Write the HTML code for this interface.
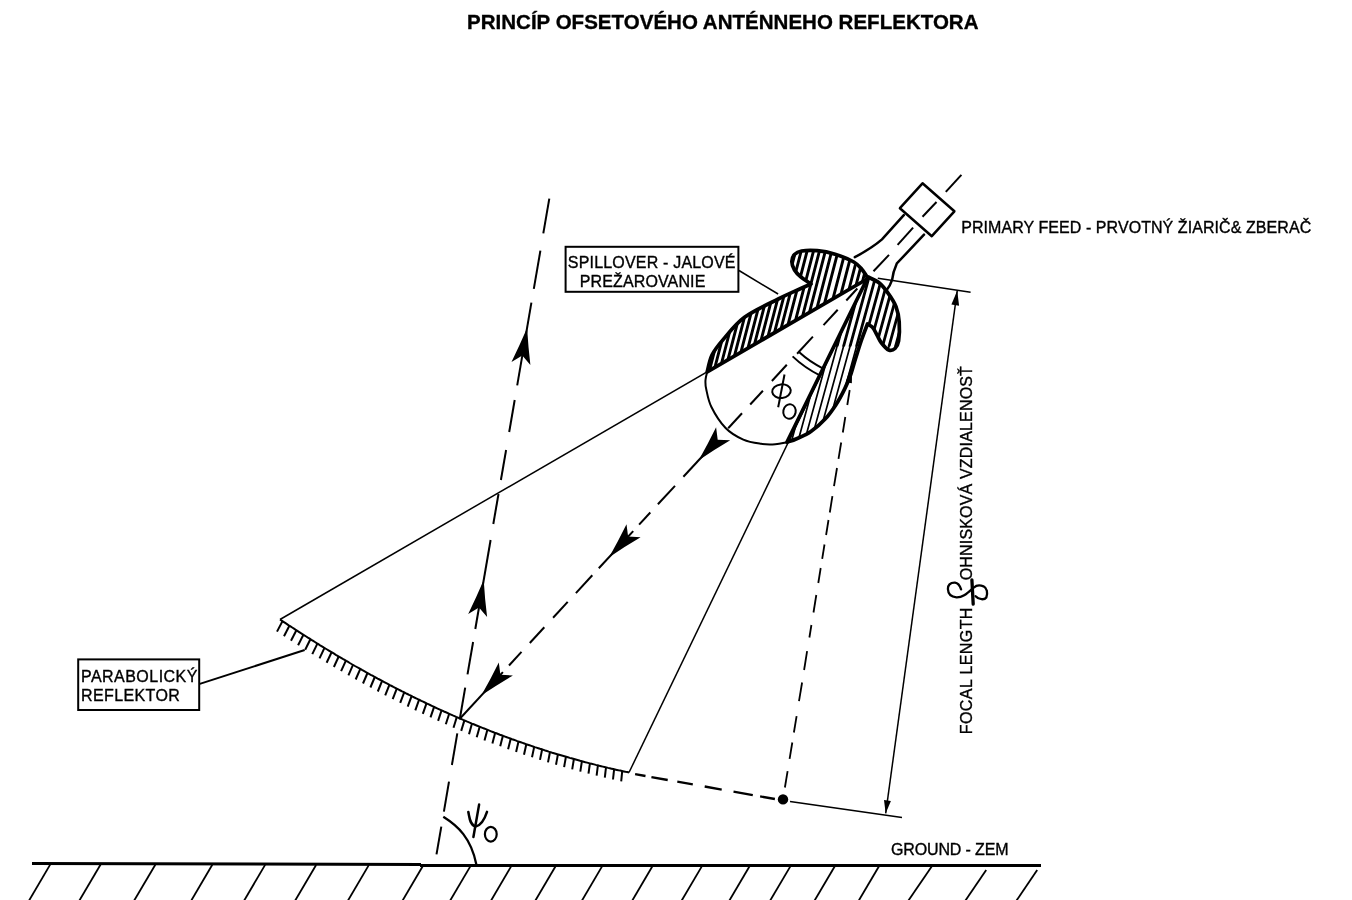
<!DOCTYPE html>
<html><head><meta charset="utf-8"><title>Princíp ofsetového anténneho reflektora</title>
<style>
html,body{margin:0;padding:0;background:#fff}
svg{display:block;will-change:transform}
.t{stroke:#000;stroke-width:1.5;fill:none}
.m{stroke:#000;stroke-width:2}
.m2{stroke:#000;stroke-width:2.3}
.t2{stroke:#000;stroke-width:1.8}
.tk{stroke:#000;stroke-width:2}
.k{stroke:#000;stroke-width:3.7;stroke-linejoin:round}
.k2{stroke:#000;stroke-width:2.5;stroke-linecap:round}
.ah{fill:#000;stroke:none}
</style></head>
<body>
<svg width="1352" height="900" viewBox="0 0 1352 900">
<defs>
<pattern id="hatch" patternUnits="userSpaceOnUse" width="6.5" height="40" patternTransform="rotate(14.5) translate(2,0)">
<rect x="0" y="0" width="2.9" height="40" fill="#000"/></pattern>
</defs>
<rect width="1352" height="900" fill="#fff"/>
<path d="M32,863.4 L421,864.4 M420,865.5 L1041,865.6" stroke="#000" stroke-width="3" fill="none"/>
<line x1="50.3" y1="864.4" x2="28.8" y2="901" class="t2"/>
<line x1="100.6" y1="864.5" x2="79.1" y2="901" class="t2"/>
<line x1="155.3" y1="864.7" x2="133.9" y2="901" class="t2"/>
<line x1="212.3" y1="864.8" x2="191.0" y2="901" class="t2"/>
<line x1="265.1" y1="864.9" x2="243.9" y2="901" class="t2"/>
<line x1="316.1" y1="865.0" x2="294.9" y2="901" class="t2"/>
<line x1="368.8" y1="865.1" x2="347.7" y2="901" class="t2"/>
<line x1="423.3" y1="865.3" x2="402.3" y2="901" class="t2"/>
<line x1="470.9" y1="865.4" x2="449.9" y2="901" class="t2"/>
<line x1="511.7" y1="865.4" x2="490.8" y2="901" class="t2"/>
<line x1="556" y1="865.5" x2="535.1" y2="901" class="t2"/>
<line x1="602.5" y1="865.6" x2="581.7" y2="901" class="t2"/>
<line x1="652.7" y1="865.8" x2="632.0" y2="901" class="t2"/>
<line x1="702.1" y1="865.9" x2="681.4" y2="901" class="t2"/>
<line x1="749.7" y1="866.0" x2="729.1" y2="901" class="t2"/>
<line x1="790.5" y1="866.1" x2="769.9" y2="901" class="t2"/>
<line x1="834.8" y1="866.2" x2="814.3" y2="901" class="t2"/>
<line x1="879" y1="866.2" x2="858.5" y2="901" class="t2"/>
<line x1="931.7" y1="866.4" x2="908.1" y2="901" class="t2"/>
<line x1="986.2" y1="870.0" x2="965.1" y2="901" class="t2"/>
<line x1="1037.2" y1="870.1" x2="1016.2" y2="901" class="t2"/>
<polyline class="m" fill="none" points="280.0,619.5 281.7,620.6 283.5,621.8 285.2,622.9 287.0,624.1 288.7,625.3 290.5,626.4 292.2,627.5 294.0,628.7 295.7,629.8 297.4,630.9 299.2,632.1 300.9,633.2 302.7,634.3 304.4,635.4 306.2,636.5 307.9,637.6 309.7,638.7 311.4,639.8 313.2,640.9 314.9,642.0 316.6,643.1 318.4,644.2 320.1,645.3 321.9,646.3 323.6,647.4 325.4,648.5 327.1,649.5 328.9,650.6 330.6,651.6 332.4,652.7 334.1,653.7 335.8,654.8 337.6,655.8 339.3,656.8 341.1,657.9 342.8,658.9 344.6,659.9 346.3,660.9 348.1,661.9 349.8,663.0 351.5,664.0 353.3,665.0 355.0,666.0 356.8,667.0 358.5,667.9 360.3,668.9 362.0,669.9 363.8,670.9 365.5,671.9 367.2,672.8 369.0,673.8 370.7,674.8 372.5,675.7 374.2,676.7 376.0,677.6 377.7,678.6 379.5,679.5 381.2,680.4 383.0,681.4 384.7,682.3 386.4,683.2 388.2,684.1 389.9,685.1 391.7,686.0 393.4,686.9 395.2,687.8 396.9,688.7 398.7,689.6 400.4,690.5 402.1,691.4 403.9,692.2 405.6,693.1 407.4,694.0 409.1,694.9 410.9,695.7 412.6,696.6 414.4,697.5 416.1,698.3 417.9,699.2 419.6,700.0 421.3,700.9 423.1,701.7 424.8,702.5 426.6,703.4 428.3,704.2 430.1,705.0 431.8,705.8 433.6,706.6 435.3,707.5 437.1,708.3 438.8,709.1 440.5,709.9 442.3,710.7 444.0,711.5 445.8,712.2 447.5,713.0 449.3,713.8 451.0,714.6 452.8,715.4 454.5,716.1 456.2,716.9 458.0,717.6 459.7,718.4 461.5,719.1 463.2,719.9 465.0,720.6 466.7,721.4 468.5,722.1 470.2,722.8 471.9,723.6 473.7,724.3 475.4,725.0 477.2,725.7 478.9,726.4 480.7,727.1 482.4,727.8 484.2,728.5 485.9,729.2 487.7,729.9 489.4,730.6 491.1,731.3 492.9,732.0 494.6,732.7 496.4,733.3 498.1,734.0 499.9,734.7 501.6,735.3 503.4,736.0 505.1,736.6 506.9,737.3 508.6,737.9 510.3,738.5 512.1,739.2 513.8,739.8 515.6,740.4 517.3,741.1 519.1,741.7 520.8,742.3 522.6,742.9 524.3,743.5 526.0,744.1 527.8,744.7 529.5,745.3 531.3,745.9 533.0,746.5 534.8,747.1 536.5,747.6 538.3,748.2 540.0,748.8 541.8,749.3 543.5,749.9 545.2,750.5 547.0,751.0 548.7,751.6 550.5,752.1 552.2,752.7 554.0,753.2 555.7,753.7 557.5,754.3 559.2,754.8 560.9,755.3 562.7,755.8 564.4,756.3 566.2,756.8 567.9,757.3 569.7,757.9 571.4,758.3 573.2,758.8 574.9,759.3 576.6,759.8 578.4,760.3 580.1,760.8 581.9,761.2 583.6,761.7 585.4,762.2 587.1,762.6 588.9,763.1 590.6,763.6 592.4,764.0 594.1,764.4 595.8,764.9 597.6,765.3 599.3,765.8 601.1,766.2 602.8,766.6 604.6,767.0 606.3,767.4 608.1,767.9 609.8,768.3 611.5,768.7 613.3,769.1 615.0,769.5 616.8,769.9 618.5,770.3 620.3,770.6 622.0,771.0 623.8,771.4 625.5,771.8 627.3,772.1 629.0,772.5"/>
<line x1="282.5" y1="621.1" x2="277.0" y2="631.6" class="tk" />
<line x1="289.4" y1="625.7" x2="284.0" y2="636.2" class="tk" />
<line x1="296.4" y1="630.2" x2="291.0" y2="640.7" class="tk" />
<line x1="303.4" y1="634.7" x2="298.1" y2="645.2" class="tk" />
<line x1="310.4" y1="639.2" x2="305.2" y2="649.7" class="tk" />
<line x1="317.4" y1="643.6" x2="312.3" y2="654.1" class="tk" />
<line x1="324.5" y1="647.9" x2="319.5" y2="658.4" class="tk" />
<line x1="331.6" y1="652.2" x2="326.6" y2="662.7" class="tk" />
<line x1="338.7" y1="656.5" x2="333.9" y2="667.0" class="tk" />
<line x1="345.9" y1="660.7" x2="341.1" y2="671.2" class="tk" />
<line x1="353.0" y1="664.8" x2="348.4" y2="675.4" class="tk" />
<line x1="360.3" y1="668.9" x2="355.7" y2="679.5" class="tk" />
<line x1="367.5" y1="673.0" x2="363.0" y2="683.5" class="tk" />
<line x1="374.8" y1="677.0" x2="370.4" y2="687.5" class="tk" />
<line x1="382.1" y1="680.9" x2="377.8" y2="691.5" class="tk" />
<line x1="389.4" y1="684.8" x2="385.2" y2="695.3" class="tk" />
<line x1="396.8" y1="688.6" x2="392.7" y2="699.2" class="tk" />
<line x1="404.2" y1="692.4" x2="400.2" y2="702.9" class="tk" />
<line x1="411.6" y1="696.1" x2="407.7" y2="706.7" class="tk" />
<line x1="419.1" y1="699.7" x2="415.3" y2="710.3" class="tk" />
<line x1="426.5" y1="703.3" x2="422.8" y2="713.9" class="tk" />
<line x1="434.1" y1="706.9" x2="430.5" y2="717.4" class="tk" />
<line x1="441.6" y1="710.3" x2="438.1" y2="720.9" class="tk" />
<line x1="449.2" y1="713.8" x2="445.8" y2="724.3" class="tk" />
<line x1="456.8" y1="717.1" x2="453.5" y2="727.7" class="tk" />
<line x1="464.4" y1="720.4" x2="461.2" y2="730.9" class="tk" />
<line x1="472.0" y1="723.6" x2="469.0" y2="734.2" class="tk" />
<line x1="479.7" y1="726.8" x2="476.7" y2="737.3" class="tk" />
<line x1="487.4" y1="729.8" x2="484.5" y2="740.4" class="tk" />
<line x1="495.1" y1="732.9" x2="492.4" y2="743.4" class="tk" />
<line x1="502.9" y1="735.8" x2="500.2" y2="746.3" class="tk" />
<line x1="510.7" y1="738.7" x2="508.1" y2="749.2" class="tk" />
<line x1="518.5" y1="741.5" x2="516.1" y2="752.0" class="tk" />
<line x1="526.3" y1="744.2" x2="524.0" y2="754.7" class="tk" />
<line x1="534.2" y1="746.9" x2="532.0" y2="757.3" class="tk" />
<line x1="542.1" y1="749.5" x2="540.0" y2="759.9" class="tk" />
<line x1="550.0" y1="752.0" x2="548.0" y2="762.4" class="tk" />
<line x1="557.9" y1="754.4" x2="556.0" y2="764.8" class="tk" />
<line x1="565.9" y1="756.8" x2="564.1" y2="767.2" class="tk" />
<line x1="573.9" y1="759.0" x2="572.2" y2="769.4" class="tk" />
<line x1="581.9" y1="761.2" x2="580.3" y2="771.6" class="tk" />
<line x1="589.9" y1="763.4" x2="588.5" y2="773.7" class="tk" />
<line x1="597.9" y1="765.4" x2="596.6" y2="775.7" class="tk" />
<line x1="606.0" y1="767.4" x2="604.8" y2="777.7" class="tk" />
<line x1="614.1" y1="769.3" x2="613.0" y2="779.5" class="tk" />
<line x1="622.2" y1="771.1" x2="621.2" y2="781.3" class="tk" />
<line x1="280.0" y1="619.5" x2="868.0" y2="278.5" class="t" />
<line x1="629.0" y1="772.5" x2="868.0" y2="277.0" class="t" />
<line x1="877.8" y1="278.3" x2="970.6" y2="292.2" class="t" />
<line x1="790.0" y1="801.6" x2="902.0" y2="817.6" class="t" />
<line x1="635.1" y1="774.2" x2="645.5" y2="776.0" class="m2" />
<line x1="651.4" y1="777.1" x2="667.7" y2="780.0" class="m2" />
<line x1="677.3" y1="781.7" x2="692.8" y2="784.4" class="m2" />
<line x1="704.7" y1="786.5" x2="721.7" y2="789.6" class="m2" />
<line x1="733.5" y1="791.7" x2="752.8" y2="795.1" class="m2" />
<line x1="760.1" y1="796.4" x2="774.9" y2="799.0" class="m2" />
<circle cx="783.0" cy="799.4" r="5.2" fill="#000"/>
<line x1="849.7" y1="390.0" x2="847.3" y2="405.0" class="t2" />
<line x1="845.3" y1="417.0" x2="842.8" y2="432.5" class="t2" />
<line x1="841.2" y1="442.5" x2="838.5" y2="458.8" class="t2" />
<line x1="837.0" y1="468.0" x2="834.0" y2="486.2" class="t2" />
<line x1="832.4" y1="496.2" x2="829.8" y2="512.5" class="t2" />
<line x1="828.5" y1="520.0" x2="826.1" y2="535.0" class="t2" />
<line x1="824.5" y1="544.5" x2="822.2" y2="558.8" class="t2" />
<line x1="820.7" y1="568.0" x2="818.3" y2="583.0" class="t2" />
<line x1="816.3" y1="595.0" x2="813.5" y2="612.5" class="t2" />
<line x1="811.4" y1="625.0" x2="809.4" y2="637.5" class="t2" />
<line x1="807.1" y1="651.2" x2="804.1" y2="670.0" class="t2" />
<line x1="802.1" y1="682.5" x2="799.0" y2="701.2" class="t2" />
<line x1="796.6" y1="716.2" x2="793.9" y2="732.5" class="t2" />
<line x1="792.3" y1="742.5" x2="789.6" y2="758.8" class="t2" />
<line x1="787.6" y1="771.2" x2="784.9" y2="787.5" class="t2" />
<line x1="957.2" y1="290.8" x2="885.7" y2="813.3" class="t" />
<path class="ah" d="M957.2,290.8 L959.1,305.7 L951.4,304.6Z"/>
<path class="ah" d="M885.7,813.3 L884.0,799.9 L890.9,800.9Z"/>
<line x1="961.4" y1="174.8" x2="945.8" y2="191.9" class="m" />
<line x1="936.5" y1="202.0" x2="922.5" y2="216.8" class="m" />
<line x1="913.1" y1="227.7" x2="897.6" y2="244.8" class="m" />
<line x1="889.0" y1="254.9" x2="873.5" y2="271.2" class="m" />
<line x1="857.3" y1="288.5" x2="846.3" y2="300.5" class="m" />
<line x1="837.7" y1="309.8" x2="823.5" y2="325.1" class="m" />
<line x1="812.9" y1="336.6" x2="797.1" y2="353.7" class="m" />
<line x1="786.8" y1="364.8" x2="771.9" y2="381.0" class="m" />
<line x1="762.9" y1="390.7" x2="750.2" y2="404.5" class="m" />
<line x1="742.0" y1="413.3" x2="728.2" y2="428.3" class="m" />
<line x1="716.0" y1="441.5" x2="683.4" y2="476.8" class="m" />
<line x1="675.0" y1="485.9" x2="657.9" y2="504.3" class="m" />
<line x1="650.3" y1="512.5" x2="639.1" y2="524.6" class="m" />
<line x1="633.2" y1="531.1" x2="598.8" y2="568.3" class="m" />
<line x1="592.3" y1="575.3" x2="575.9" y2="593.1" class="m" />
<line x1="567.7" y1="601.9" x2="553.1" y2="617.8" class="m" />
<line x1="544.3" y1="627.3" x2="529.8" y2="643.0" class="m" />
<line x1="521.5" y1="651.9" x2="509.0" y2="665.5" class="m" />
<line x1="502.9" y1="672.1" x2="459.8" y2="718.7" class="m" />
<path class="ah" d="M698.7,460.2 Q707.8,444.2 716.1,427.3 L717.7,439.7 L730.2,440.3 Q714.0,449.9 698.7,460.2Z"/>
<path class="ah" d="M609.1,557.2 Q618.2,541.1 626.5,524.2 L628.1,536.6 L640.6,537.3 Q624.4,546.8 609.1,557.2Z"/>
<path class="ah" d="M481.4,695.3 Q490.5,679.2 498.8,662.4 L500.4,674.8 L512.9,675.4 Q496.7,685.0 481.4,695.3Z"/>
<line x1="549.3" y1="198.7" x2="543.3" y2="233.3" class="m" />
<line x1="540.4" y1="250.7" x2="533.8" y2="288.8" class="m" />
<line x1="531.4" y1="302.7" x2="517.2" y2="385.3" class="m" />
<line x1="514.7" y1="400.0" x2="509.2" y2="432.0" class="m" />
<line x1="506.1" y1="450.0" x2="500.9" y2="480.0" class="m" />
<line x1="498.5" y1="494.0" x2="493.3" y2="524.0" class="m" />
<line x1="490.6" y1="540.0" x2="475.3" y2="629.0" class="m" />
<line x1="473.1" y1="642.0" x2="467.5" y2="674.4" class="m" />
<line x1="465.2" y1="687.6" x2="459.7" y2="719.5" class="m" />
<line x1="457.3" y1="733.3" x2="451.9" y2="765.0" class="m" />
<line x1="449.0" y1="781.7" x2="443.9" y2="811.7" class="m" />
<line x1="441.3" y1="826.7" x2="436.5" y2="854.3" class="m" />
<path class="ah" d="M527.1,328.0 Q528.2,346.5 530.4,365.1 L522.3,355.6 L511.5,361.9 Q519.8,345.0 527.1,328.0Z"/>
<path class="ah" d="M483.7,580.0 Q484.8,598.5 487.1,617.1 L479.0,607.6 L468.2,613.9 Q476.5,597.0 483.7,580.0Z"/>
<path d="M443.3,816.8 C458,826 471,838 476.3,864.2" class="m2" fill="none"/>
<clipPath id="cA"><path d="M707.2,371.8 C708.0,369.0 709.4,360.4 712.0,355.0 C714.6,349.6 717.7,345.9 723.1,339.6 C728.5,333.3 735.3,324.1 744.5,317.3 C753.7,310.5 769.5,303.5 778.3,299.0 C787.0,294.5 791.5,292.7 797.0,290.2 C802.5,287.7 808.7,285.0 811.0,284.0 C809.3,282.8 803.8,279.3 801.0,277.0 C798.2,274.7 796.0,272.6 794.5,270.0 C793.0,267.4 791.8,264.1 791.8,261.5 C791.8,258.9 792.9,256.2 794.5,254.5 C796.1,252.8 797.7,251.6 801.5,251.0 C805.3,250.4 811.7,250.2 817.3,250.7 C822.9,251.2 829.0,252.3 835.1,254.2 C841.2,256.1 849.3,259.4 853.8,262.0 C858.3,264.6 859.6,266.8 862.0,269.5 C864.4,272.2 867.0,277.0 868.0,278.5 L707.2,371.8Z"/></clipPath><clipPath id="cB"><path d="M786.9,442.2 C788.5,441.6 792.7,440.5 796.7,438.7 C800.7,436.9 806.2,434.9 810.9,431.6 C815.6,428.3 821.0,423.6 825.1,419.1 C829.2,414.7 832.5,409.9 835.8,404.9 C839.1,399.9 842.2,394.0 844.7,388.9 C847.2,383.8 849.1,379.0 850.9,374.0 C852.7,369.0 853.7,364.4 855.5,358.7 C857.3,353.0 859.5,345.8 861.5,340.0 C863.5,334.2 866.5,326.7 867.5,324.0 C868.4,324.6 871.1,325.7 872.7,327.5 C874.3,329.3 875.5,332.4 877.0,335.0 C878.5,337.6 879.5,340.5 881.5,343.0 C883.5,345.5 886.5,349.1 888.7,350.0 C891.0,350.9 893.4,350.0 895.0,348.5 C896.6,347.0 897.9,345.4 898.6,341.0 C899.3,336.6 899.6,327.7 899.2,322.0 C898.8,316.3 897.8,311.5 896.0,306.7 C894.2,301.9 891.0,297.2 888.2,293.3 C885.4,289.4 882.7,285.7 879.3,283.0 C875.9,280.3 869.9,278.0 868.0,277.0 L786.9,442.2Z"/></clipPath>
<clipPath id="cTop"><rect x="700" y="200" width="300" height="146.6"/></clipPath><clipPath id="cBot"><rect x="700" y="346" width="300" height="200"/></clipPath>
<path d="M707.9,376.4 L732.8,280.4 M713.4,373.2 L738.3,277.2 M719.9,369.5 L744.8,273.5 M726.4,365.7 L751.3,269.7 M732.9,361.9 L757.8,265.9 M739.4,358.2 L764.3,262.2 M746.4,354.1 L771.3,258.1 M752.9,350.3 L777.8,254.3 M759.4,346.6 L784.3,250.6 M766.4,342.5 L791.3,246.5 M772.9,338.7 L797.8,242.7 M779.4,335.0 L804.3,239.0 M786.4,330.9 L811.3,234.9 M793.9,326.6 L818.8,230.6 M800.9,322.5 L825.8,226.5 M807.9,318.4 L832.8,222.4 M815.4,314.1 L840.3,218.1 M822.9,309.7 L847.8,213.7 M831.4,304.8 L856.3,208.8 M839.4,300.2 L864.3,204.2 M847.4,295.5 L872.3,199.5 M854.4,291.5 L879.3,195.5 M860.9,287.7 L885.8,191.7" clip-path="url(#cA)" stroke="#000" stroke-width="2.9" fill="none"/>
<g clip-path="url(#cB)"><path d="M758.2,467.8 L813.1,267.8 M764.7,467.8 L819.6,267.8 M771.2,467.8 L826.1,267.8 M777.7,467.8 L832.6,267.8 M784.2,467.8 L839.1,267.8 M790.7,467.8 L845.6,267.8 M797.2,467.8 L852.1,267.8 M803.7,467.8 L858.6,267.8 M810.2,467.8 L865.1,267.8 M816.7,467.8 L871.6,267.8 M823.2,467.8 L878.1,267.8 M829.7,467.8 L884.6,267.8 M836.2,467.8 L891.1,267.8 M842.7,467.8 L897.6,267.8 M849.2,467.8 L904.1,267.8 M855.7,467.8 L910.6,267.8 M862.2,467.8 L917.1,267.8 M868.7,467.8 L923.6,267.8 M875.2,467.8 L930.1,267.8 M881.7,467.8 L936.6,267.8 M888.2,467.8 L943.1,267.8" clip-path="url(#cTop)" stroke="#000" stroke-width="2.8" fill="none"/><path d="M758.2,467.8 L813.1,267.8 M764.7,467.8 L819.6,267.8 M771.2,467.8 L826.1,267.8 M777.7,467.8 L832.6,267.8 M784.2,467.8 L839.1,267.8 M790.7,467.8 L845.6,267.8 M797.2,467.8 L852.1,267.8 M803.7,467.8 L858.6,267.8 M810.2,467.8 L865.1,267.8 M816.7,467.8 L871.6,267.8 M823.2,467.8 L878.1,267.8 M829.7,467.8 L884.6,267.8 M836.2,467.8 L891.1,267.8 M842.7,467.8 L897.6,267.8 M849.2,467.8 L904.1,267.8 M855.7,467.8 L910.6,267.8 M862.2,467.8 L917.1,267.8 M868.7,467.8 L923.6,267.8 M875.2,467.8 L930.1,267.8 M881.7,467.8 L936.6,267.8 M888.2,467.8 L943.1,267.8" clip-path="url(#cBot)" stroke="#000" stroke-width="1.7" fill="none"/></g>
<path d="M707.2,371.8 C708.0,369.0 709.4,360.4 712.0,355.0 C714.6,349.6 717.7,345.9 723.1,339.6 C728.5,333.3 735.3,324.1 744.5,317.3 C753.7,310.5 769.5,303.5 778.3,299.0 C787.0,294.5 791.5,292.7 797.0,290.2 C802.5,287.7 808.7,285.0 811.0,284.0 C809.3,282.8 803.8,279.3 801.0,277.0 C798.2,274.7 796.0,272.6 794.5,270.0 C793.0,267.4 791.8,264.1 791.8,261.5 C791.8,258.9 792.9,256.2 794.5,254.5 C796.1,252.8 797.7,251.6 801.5,251.0 C805.3,250.4 811.7,250.2 817.3,250.7 C822.9,251.2 829.0,252.3 835.1,254.2 C841.2,256.1 849.3,259.4 853.8,262.0 C858.3,264.6 859.6,266.8 862.0,269.5 C864.4,272.2 867.0,277.0 868.0,278.5 L707.2,371.8Z" fill="none" class="k"/>
<path d="M786.9,442.2 C788.5,441.6 792.7,440.5 796.7,438.7 C800.7,436.9 806.2,434.9 810.9,431.6 C815.6,428.3 821.0,423.6 825.1,419.1 C829.2,414.7 832.5,409.9 835.8,404.9 C839.1,399.9 842.2,394.0 844.7,388.9 C847.2,383.8 849.1,379.0 850.9,374.0 C852.7,369.0 853.7,364.4 855.5,358.7 C857.3,353.0 859.5,345.8 861.5,340.0 C863.5,334.2 866.5,326.7 867.5,324.0 C868.4,324.6 871.1,325.7 872.7,327.5 C874.3,329.3 875.5,332.4 877.0,335.0 C878.5,337.6 879.5,340.5 881.5,343.0 C883.5,345.5 886.5,349.1 888.7,350.0 C891.0,350.9 893.4,350.0 895.0,348.5 C896.6,347.0 897.9,345.4 898.6,341.0 C899.3,336.6 899.6,327.7 899.2,322.0 C898.8,316.3 897.8,311.5 896.0,306.7 C894.2,301.9 891.0,297.2 888.2,293.3 C885.4,289.4 882.7,285.7 879.3,283.0 C875.9,280.3 869.9,278.0 868.0,277.0 L786.9,442.2Z" fill="none" class="k"/>
<path d="M707.2,371.8 C706.9,373.2 705.7,377.1 705.5,380.0 C705.3,382.9 705.2,384.6 706.2,389.0 C707.2,393.4 708.1,400.2 711.3,406.7 C714.5,413.2 720.3,422.5 725.6,428.0 C730.9,433.5 737.4,437.0 743.3,439.6 C749.2,442.2 755.8,443.0 761.1,443.8 C766.4,444.6 771.0,444.5 775.3,444.2 C779.6,443.9 785.0,442.5 786.9,442.2" fill="none" class="m"/>
<path d="M799.0,352.1 A102,102 0 0 0 823.6,368.8" fill="none" class="m"/>
<path d="M792.6,356.4 A109.5,109.5 0 0 0 820.3,375.6" fill="none" class="m"/>
<g class="m" fill="none"><ellipse cx="781.5" cy="391.2" rx="9.3" ry="6.8" transform="rotate(-6 781.5 391.2)"/><line x1="784.5" y1="374.5" x2="778.2" y2="407.2"/><ellipse cx="789.5" cy="411.5" rx="6.2" ry="7.3" transform="rotate(12 789.5 411.5)"/></g>
<path class="ah" d="M852.0,363.0 L851.9,383.3 L845.6,382.2Z"/>
<path d="M922.5,183.3 L954.4,211.3 L931.8,236.2 L899.9,208.2Z" fill="none" class="k2" stroke-linejoin="round"/>
<path d="M903.8,215.2 L882,239.4 Q872,248 854.8,257.2" fill="none" class="k2"/>
<path d="M924,234.7 L896.8,263.5 Q893,272 892.1,279.8 Q890,286 886.7,290" fill="none" class="k2"/>
<line x1="739.0" y1="270.5" x2="778.1" y2="294.0" class="t" />
<line x1="199.8" y1="683.9" x2="304.7" y2="650.0" class="m" />
<rect x="565.6" y="246.8" width="172.8" height="45" fill="none" class="m"/>
<rect x="78.2" y="659.4" width="121" height="50.6" fill="none" class="m"/>
<g font-family="Liberation Sans, sans-serif" fill="#000" stroke="#000" stroke-width="0.35">
<text x="467" y="28.6" font-size="20.5" font-weight="bold" textLength="511.5" lengthAdjust="spacing">PRINCÍP OFSETOVÉHO ANTÉNNEHO REFLEKTORA</text>
<text x="567.8" y="267.8" font-size="16" textLength="167.7" lengthAdjust="spacing">SPILLOVER - JALOVÉ</text>
<text x="579.8" y="286.5" font-size="16" textLength="125.5" lengthAdjust="spacing">PREŽAROVANIE</text>
<text x="81" y="682.3" font-size="16" textLength="116.4" lengthAdjust="spacing">PARABOLICKÝ</text>
<text x="81" y="701.3" font-size="16" textLength="98.8" lengthAdjust="spacing">REFLEKTOR</text>
<text x="961.2" y="233.1" font-size="16" textLength="350" lengthAdjust="spacing">PRIMARY FEED - PRVOTNÝ ŽIARIČ&amp; ZBERAČ</text>
<text x="891" y="854.6" font-size="16" textLength="117.5" lengthAdjust="spacing">GROUND - ZEM</text>
<text transform="translate(972.2,734.2) rotate(-90)" font-size="16" textLength="126.6" lengthAdjust="spacing">FOCAL LENGTH</text>
<text transform="translate(971.6,580.3) rotate(-90)" font-size="16" textLength="214.2" lengthAdjust="spacing">OHNISKOVÁ VZDIALENOSŤ</text>
</g>
<path d="M971.9,579.9 L973.2,604.2" fill="none" stroke="#000" stroke-width="3.3" stroke-linecap="round"/>
<path d="M961.1,589.4 C960,586 958.5,582.9 955,582.6 C950,582.4 947.7,585.5 947.9,589 C948.1,593.5 951,597 956.5,597.3 C962,597.5 966,594.5 972.8,588.3 M974,587.5 C976,585.5 980,585 983.5,586.3 C987,588 988,593 986.3,597.5 C984.5,600 979,600 975.6,596.2" fill="none" stroke="#000" stroke-width="2.3" stroke-linecap="round"/>
<g class="k2" fill="none"><path d="M468.3,811.9 C469.5,817 469.5,824.5 475.6,826.6 C481,825.5 485,818 487,811.9"/><line x1="479.1" y1="804.6" x2="473.4" y2="837"/><ellipse cx="490.8" cy="834.2" rx="5.9" ry="7.4" stroke-width="2.2"/></g>
</svg>
</body></html>
